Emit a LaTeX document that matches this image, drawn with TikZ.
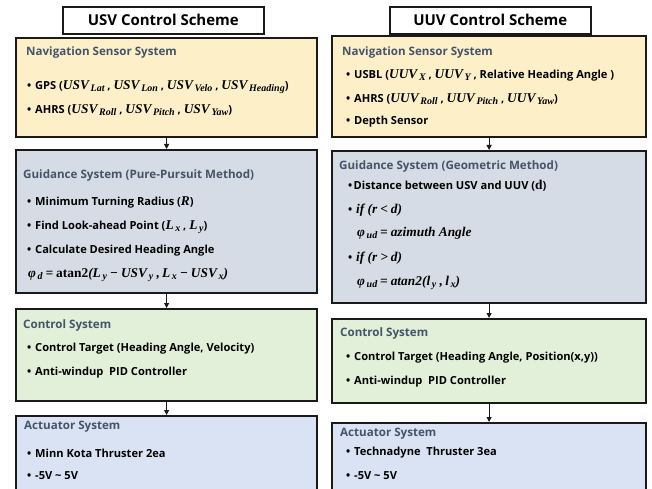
\documentclass[tikz,border=0pt]{standalone}
\usepackage{fontspec}
\setmainfont{Open Sans}
\newfontfamily\mserif{Liberation Serif}
\usetikzlibrary{arrows.meta}
\definecolor{navfill}{HTML}{FDF0C8}
\definecolor{guifill}{HTML}{D6DCE5}
\definecolor{ctlfill}{HTML}{E2EFD9}
\definecolor{actfill}{HTML}{DAE3F3}
\definecolor{headc}{HTML}{44546A}
\definecolor{edgec}{HTML}{1A1A1A}
\tikzset{
  sysbox/.style={draw=edgec, line width=2.2pt, inner sep=0pt, anchor=north west},
  titlebox/.style={draw=edgec, line width=1.6pt, fill=white, inner sep=0pt, anchor=north west,
     minimum width=201pt, minimum height=27pt, font=\fontsize{15}{17}\selectfont\bfseries},
  headtxt/.style={anchor=west, inner sep=0pt, text=headc, font=\fontsize{11.6}{13}\selectfont\bfseries},
  itemtxt/.style={anchor=west, inner sep=0pt, font=\fontsize{11.1}{13}\selectfont\bfseries}
}
\tikzset{flow/.style={-{Triangle[length=5pt,width=5pt]}, line width=1pt, draw=edgec}}
\newcommand{\bul}{\makebox[8pt][l]{•}}
% bold italic serif "math" text
\newcommand{\mt}[1]{{\mserif\fontsize{13.4}{14}\selectfont\bfseries\itshape #1}}
\newcommand{\sbs}[1]{\raisebox{-0.35ex}{\fontsize{10}{11}\selectfont\,#1}}
\newcommand{\rel}[1]{\hspace{0.22em}#1\hspace{0.22em}}
\begin{document}
\begin{tikzpicture}[x=1pt,y=-1pt]
\useasboundingbox (0,0) rectangle (652,489);
\fill[white] (0,0) rectangle (652,489);
\begin{scope}
\clip (0,0) rectangle (652,489);
% titles
\node[titlebox] (ltitle) at (62,6) {USV Control Scheme};
\node[titlebox] (rtitle) at (389,6) {UUV Control Scheme};
% left boxes
\node[sysbox, fill=navfill, minimum width=301pt, minimum height=99pt] (lnav) at (15,37) {};
\node[sysbox, fill=guifill, minimum width=301pt, minimum height=143pt] (lgui) at (15,149) {};
\node[sysbox, fill=ctlfill, minimum width=301pt, minimum height=92pt] (lctl) at (15,308) {};
\node[sysbox, fill=actfill, minimum width=301pt, minimum height=90pt] (lact) at (15,415) {};
% right boxes
\node[sysbox, fill=navfill, minimum width=314pt, minimum height=101pt] (rnav) at (331,35) {};
\node[sysbox, fill=guifill, minimum width=314pt, minimum height=152pt] (rgui) at (331,150) {};
\node[sysbox, fill=ctlfill, minimum width=314pt, minimum height=84pt] (rctl) at (331,318) {};
\node[sysbox, fill=actfill, minimum width=314pt, minimum height=90pt] (ract) at (331,422) {};
\end{scope}
% connectors
\draw[flow] (lnav.south) -- (lgui.north);
\draw[flow] (lgui.south) -- (lctl.north);
\draw[flow] (lctl.south) -- (lact.north);
\draw[flow] (rnav.south) -- (rgui.north);
\draw[flow] (rgui.south) -- (rctl.north);
\draw[flow] (rctl.south) -- (ract.north);
% left texts
\node[headtxt] (lnavh) at (26,52) {Navigation Sensor System};
\node[itemtxt] (lnav1) at (27,87) {\bul GPS (\mt{USV\sbs{Lat}} , \mt{USV\sbs{Lon}} , \mt{USV\sbs{Velo}} , \mt{USV\sbs{Heading}})};
\node[itemtxt] (lnav2) at (27,110) {\bul AHRS (\mt{USV\sbs{Roll}} , \mt{USV\sbs{Pitch}} , \mt{USV\sbs{Yaw}})};
\node[headtxt] (lguih) at (23,175) {Guidance System (Pure-Pursuit Method)};
\node[itemtxt] (lgui1) at (27,202) {\bul Minimum Turning Radius (\mt{R})};
\node[itemtxt] (lgui2) at (27,227) {\bul Find Look-ahead Point (\mt{L\sbs{x}} , \mt{L\sbs{y}})};
\node[itemtxt] (lgui3) at (27,251) {\bul Calculate Desired Heading Angle};
\node[itemtxt] (lgui4) at (28,275) {\mt{φ\sbs{d}\rel{=}\upshape atan2\itshape(L\sbs{y}\rel{−}USV\sbs{y} ,\,L\sbs{x}\rel{−}USV\sbs{x})}};
\node[headtxt] (lctlh) at (23,325) {Control System};
\node[itemtxt] (lctl1) at (27,349) {\bul Control Target (Heading Angle, Velocity)};
\node[itemtxt] (lctl2) at (27,373) {\bul Anti-windup\ \ PID Controller};
\node[headtxt] (lacth) at (24,427) {Actuator System};
\node[itemtxt] (lact1) at (27,453) {\bul Minn Kota Thruster 2ea};
\node[itemtxt] (lact2) at (27,476) {\bul -5V \textasciitilde{} 5V};
% right texts
\node[headtxt] (rnavh) at (342,52) {Navigation Sensor System};
\node[itemtxt] (rnav1) at (346,75) {\bul USBL (\mt{UUV\sbs{X}} , \mt{UUV\sbs{Y}} , Relative Heading Angle )};
\node[itemtxt] (rnav2) at (346,99) {\bul AHRS (\mt{UUV\sbs{Roll}} , \mt{UUV\sbs{Pitch}} , \mt{UUV\sbs{Yaw}})};
\node[itemtxt] (rnav3) at (346,122) {\bul Depth Sensor};
\node[headtxt] (rguih) at (339,166) {Guidance System (Geometric Method)};
\node[itemtxt] (rgui1) at (348,186) {\makebox[5.5pt][l]{•}Distance between USV and UUV ({\mserif\fontsize{13.4}{14}\selectfont\bfseries d})};
\node[itemtxt] (rgui2) at (348,210) {\bul \mt{if (r\rel{<}d)}};
\node[itemtxt] (rgui3) at (357,233) {\mt{φ\sbs{ud}\rel{=}azimuth Angle}};
\node[itemtxt] (rgui4) at (348,258) {\bul \mt{if (r\rel{>}d)}};
\node[itemtxt] (rgui5) at (357,283) {\mt{φ\sbs{ud}\rel{=}atan2(l\sbs{y} ,\,l\sbs{x})}};
\node[headtxt] (rctlh) at (340,333) {Control System};
\node[itemtxt] (rctl1) at (346,358) {\bul Control Target (Heading Angle, Position(x,y))};
\node[itemtxt] (rctl2) at (346,382) {\bul Anti-windup\ \ PID Controller};
\node[headtxt] (racth) at (340,434) {Actuator System};
\node[itemtxt] (ract1) at (346,453) {\bul Technadyne\ \ Thruster 3ea};
\node[itemtxt] (ract2) at (346,476) {\bul -5V \textasciitilde{} 5V};
\end{tikzpicture}
\end{document}
